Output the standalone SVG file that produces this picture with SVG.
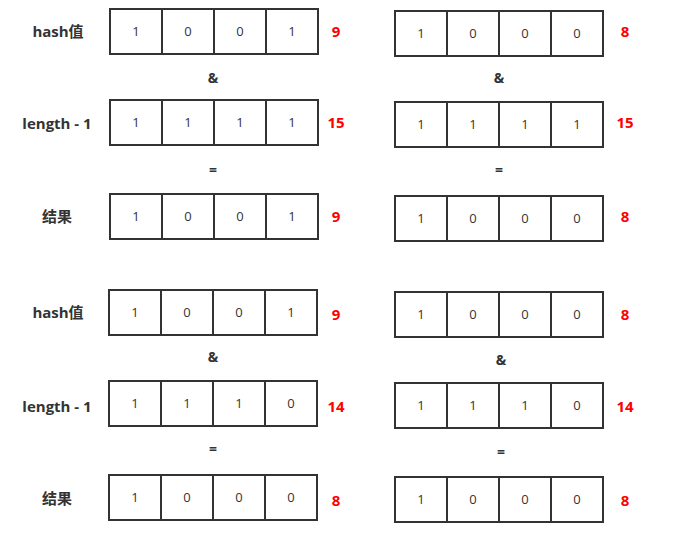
<svg xmlns="http://www.w3.org/2000/svg" width="685" height="535" viewBox="0 0 685 535">
<style>
.cell{fill:#fff;stroke:#333;stroke-width:2}
.d{font-family:"Open Sans","Liberation Sans",sans-serif;font-size:13px;fill:#333;text-anchor:middle;dominant-baseline:central}
.lab{font-family:"Open Sans","Noto Sans CJK SC",sans-serif;font-size:15px;font-weight:bold;fill:#333;text-anchor:middle;dominant-baseline:central}
.num{font-family:"Open Sans","Liberation Sans",sans-serif;font-size:15px;font-weight:bold;fill:#ff0000;text-anchor:middle;dominant-baseline:central}
.op{font-family:"Open Sans","Liberation Sans",sans-serif;font-size:14px;font-weight:bold;fill:#333;text-anchor:middle;dominant-baseline:central}
</style>
<rect width="685" height="535" fill="#fff"/>
<defs>
<g id="row">
<rect class="cell" x="0" y="0" width="52" height="45"/>
<rect class="cell" x="52" y="0" width="52" height="45"/>
<rect class="cell" x="104" y="0" width="52" height="45"/>
<rect class="cell" x="156" y="0" width="52" height="45"/>
</g>
</defs>

<g id="labels">
<text class="lab" x="58" y="31">hash值</text>
<text class="lab" x="57" y="123">length - 1</text>
<text class="lab" x="57" y="216">结果</text>
<text class="lab" x="58" y="312">hash值</text>
<text class="lab" x="57" y="406">length - 1</text>
<text class="lab" x="57" y="498">结果</text>
</g>

<g id="tl-hash">
<use href="#row" x="110" y="9"/>
<text class="d" x="136" y="31">1</text><text class="d" x="188" y="31">0</text><text class="d" x="240" y="31">0</text><text class="d" x="292" y="31">1</text>
<text class="num" x="336" y="31">9</text>
</g>
<text class="op" x="213" y="77">&amp;</text>
<g id="tl-len">
<use href="#row" x="110" y="100"/>
<text class="d" x="136" y="122">1</text><text class="d" x="188" y="122">1</text><text class="d" x="240" y="122">1</text><text class="d" x="292" y="122">1</text>
<text class="num" x="336" y="122">15</text>
</g>
<text class="op" x="213" y="169">=</text>
<g id="tl-res">
<use href="#row" x="110" y="194"/>
<text class="d" x="136" y="216">1</text><text class="d" x="188" y="216">0</text><text class="d" x="240" y="216">0</text><text class="d" x="292" y="216">1</text>
<text class="num" x="336" y="216">9</text>
</g>

<g id="tr-hash">
<use href="#row" x="395" y="11"/>
<text class="d" x="421" y="33">1</text><text class="d" x="473" y="33">0</text><text class="d" x="525" y="33">0</text><text class="d" x="577" y="33">0</text>
<text class="num" x="625" y="31">8</text>
</g>
<text class="op" x="499" y="77">&amp;</text>
<g id="tr-len">
<use href="#row" x="395" y="102"/>
<text class="d" x="421" y="124">1</text><text class="d" x="473" y="124">1</text><text class="d" x="525" y="124">1</text><text class="d" x="577" y="124">1</text>
<text class="num" x="625" y="122">15</text>
</g>
<text class="op" x="499" y="169">=</text>
<g id="tr-res">
<use href="#row" x="395" y="196"/>
<text class="d" x="421" y="218">1</text><text class="d" x="473" y="218">0</text><text class="d" x="525" y="218">0</text><text class="d" x="577" y="218">0</text>
<text class="num" x="625" y="216">8</text>
</g>

<g id="bl-hash">
<use href="#row" x="109" y="290"/>
<text class="d" x="135" y="312">1</text><text class="d" x="187" y="312">0</text><text class="d" x="239" y="312">0</text><text class="d" x="291" y="312">1</text>
<text class="num" x="336" y="314">9</text>
</g>
<text class="op" x="213" y="356">&amp;</text>
<g id="bl-len">
<use href="#row" x="109" y="381"/>
<text class="d" x="135" y="403">1</text><text class="d" x="187" y="403">1</text><text class="d" x="239" y="403">1</text><text class="d" x="291" y="403">0</text>
<text class="num" x="336" y="406">14</text>
</g>
<text class="op" x="213" y="448">=</text>
<g id="bl-res">
<use href="#row" x="109" y="475"/>
<text class="d" x="135" y="497">1</text><text class="d" x="187" y="497">0</text><text class="d" x="239" y="497">0</text><text class="d" x="291" y="497">0</text>
<text class="num" x="336" y="500">8</text>
</g>

<g id="br-hash">
<use href="#row" x="395" y="292"/>
<text class="d" x="421" y="314">1</text><text class="d" x="473" y="314">0</text><text class="d" x="525" y="314">0</text><text class="d" x="577" y="314">0</text>
<text class="num" x="625" y="314">8</text>
</g>
<text class="op" x="501" y="359">&amp;</text>
<g id="br-len">
<use href="#row" x="395" y="383"/>
<text class="d" x="421" y="405">1</text><text class="d" x="473" y="405">1</text><text class="d" x="525" y="405">1</text><text class="d" x="577" y="405">0</text>
<text class="num" x="625" y="406">14</text>
</g>
<text class="op" x="501" y="451">=</text>
<g id="br-res">
<use href="#row" x="395" y="477"/>
<text class="d" x="421" y="499">1</text><text class="d" x="473" y="499">0</text><text class="d" x="525" y="499">0</text><text class="d" x="577" y="499">0</text>
<text class="num" x="625" y="500">8</text>
</g>
</svg>
